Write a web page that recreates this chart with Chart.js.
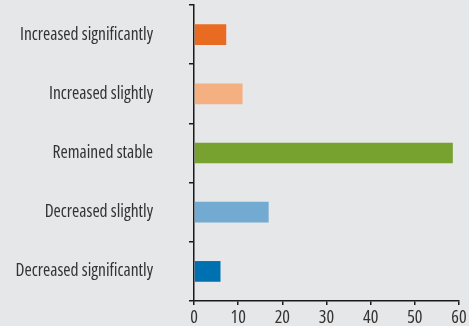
<!DOCTYPE html>
<html>
<head>
<meta charset="utf-8">
<script src="https://cdn.jsdelivr.net/npm/chart.js@4"></script>
<style>
  html, body { margin: 0; padding: 0; background: #e6e7e9; }
  #wrap { width: 469px; height: 326px; }
</style>
</head>
<body>
<div id="wrap"><canvas id="c" width="469" height="326"></canvas></div>
<script>
// Survey answers, listed top to bottom
const categories = [
  'Increased significantly',
  'Increased slightly',
  'Remained stable',
  'Decreased slightly',
  'Decreased significantly'
];
// Share of respondents (%)
const shares = [7.3, 11, 58.6, 16.9, 6.0];
const barColors = ['#e96b22', '#f5b082', '#77a22f', '#73aad2', '#0071b0'];
const xTickValues = [0, 10, 20, 30, 40, 50, 60];

const FAMILY = '"Open Sans", "DejaVu Sans Condensed", sans-serif';
const AXIS = '#1a1a1a';
const TEXT = '#333333';

new Chart(document.getElementById('c'), {
  type: 'bar',
  data: {
    labels: categories,
    datasets: [{
      data: shares,
      backgroundColor: barColors,
      borderWidth: 0,
      barPercentage: 0.35,
      categoryPercentage: 1
    }]
  },
  options: {
    indexAxis: 'y',
    responsive: false,
    animation: false,
    devicePixelRatio: 1,
    layout: { padding: { top: 5, right: 10, left: 0, bottom: 0 } },
    plugins: { legend: { display: false }, tooltip: { enabled: false } },
    scales: {
      x: {
        min: xTickValues[0],
        max: xTickValues[xTickValues.length - 1],
        afterBuildTicks: s => { s.ticks = xTickValues.map(v => ({ value: v })); },
        afterFit: s => { s.height = 25; s.paddingLeft = 0; s.paddingRight = 0; },
        border: { display: true, color: AXIS, width: 1.5 },
        grid: { drawOnChartArea: false, drawTicks: true, tickLength: 4, color: AXIS, lineWidth: 1.5 },
        ticks: {
          color: TEXT,
          // font-stretch rides along in the weight slot of the canvas font string
          font: { family: FAMILY, size: 18, weight: 'normal condensed', lineHeight: 1 },
          padding: 4,
          maxRotation: 0
        }
      },
      y: {
        afterFit: s => { s.width = 194; s.paddingTop = 0; s.paddingBottom = 0; },
        border: { display: true, color: AXIS, width: 1.5 },
        grid: { offset: true, drawOnChartArea: false, drawTicks: true, tickLength: 5, color: AXIS, lineWidth: 1.5 },
        ticks: {
          color: TEXT,
          font: { family: FAMILY, size: 17.5, weight: 'normal condensed' },
          padding: 36,
          crossAlign: 'near'
        }
      }
    }
  }
});
</script>
</body>
</html>
